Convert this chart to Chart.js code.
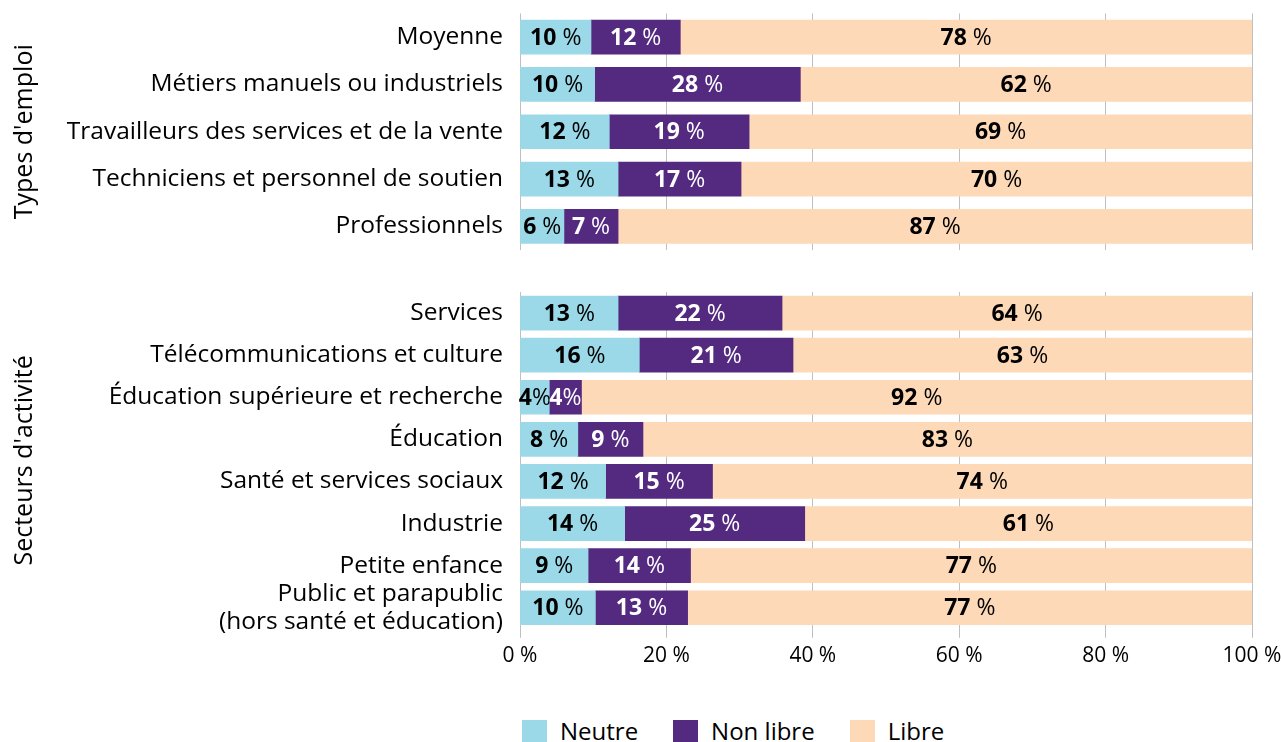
<!DOCTYPE html>
<html>
<head>
<meta charset="utf-8">
<script src="https://cdn.jsdelivr.net/npm/chart.js@4.4.1/dist/chart.umd.min.js"></script>
<style>
body { margin:0; background:#fff; width:1281px; height:742px; overflow:hidden; position:relative; font-family:"Open Sans", sans-serif; }
#topChart { position:absolute; left:0; top:0; }
#bottomChart { position:absolute; left:0; top:280px; }
#legend { position:absolute; left:522px; top:714px; display:flex; align-items:center; font-size:24px; color:#000; }
#legend .item { display:flex; align-items:center; margin-right:35px; }
#legend .box { width:25px; height:22px; margin-right:13px; }
</style>
</head>
<body>
<canvas id="topChart" width="1281" height="254"></canvas>
<canvas id="bottomChart" width="1281" height="406"></canvas>
<div id="legend"></div>

<script>
// series
var seriesNames = ['Neutre', 'Non libre', 'Libre'];
var seriesColors = ['#9BD9E8', '#542A80', '#FDD9B8'];
var labelColors = ['#000', '#fff', '#000'];

// types d'emploi
var emploiLabels = ['Moyenne', 'Métiers manuels ou industriels', 'Travailleurs des services et de la vente', 'Techniciens et personnel de soutien', 'Professionnels'];
var emploiNeutre = [9.7, 10.2, 12.2, 13.4, 6.0];
var emploiNonLibre = [12.2, 28.1, 19.1, 16.8, 7.4];
var emploiLibre = [78.1, 61.7, 68.7, 69.8, 86.6];

// secteurs d'activite
var secteurLabels = ['Services', 'Télécommunications et culture', 'Éducation supérieure et recherche', 'Éducation', 'Santé et services sociaux', 'Industrie', 'Petite enfance', ['Public et parapublic', '(hors santé et éducation)']];
var secteurNeutre = [13.4, 16.3, 4.0, 7.9, 11.7, 14.3, 9.3, 10.3];
var secteurNonLibre = [22.4, 21.0, 4.4, 8.9, 14.6, 24.6, 14.0, 12.6];
var secteurLibre = [64.2, 62.7, 91.6, 83.2, 73.7, 61.1, 76.7, 77.1];

var xTicks = [0, 20, 40, 60, 80, 100];

var FONT = '"Open Sans"';
var LABEL_SIZE = 23;

var barLabels = {
  id: 'barLabels',
  afterDatasetsDraw: function(chart) {
    var ctx = chart.ctx;
    ctx.save();
    ctx.textBaseline = 'middle';
    ctx.textAlign = 'left';
    chart.data.datasets.forEach(function(ds, i) {
      chart.getDatasetMeta(i).data.forEach(function(bar, j) {
        var val = ds.data[j];
        var num = String(Math.round(val));
        var pct = val < 5 ? '%' : ' %';
        ctx.font = 'bold ' + LABEL_SIZE + 'px ' + FONT;
        var w1 = ctx.measureText(num).width;
        ctx.font = LABEL_SIZE + 'px ' + FONT;
        var w2 = ctx.measureText(pct).width;
        var cx = (bar.x + bar.base) / 2;
        var x0 = cx - (w1 + w2) / 2;
        ctx.fillStyle = labelColors[i];
        ctx.font = 'bold ' + LABEL_SIZE + 'px ' + FONT;
        ctx.fillText(num, x0, bar.y + 1);
        ctx.font = LABEL_SIZE + 'px ' + FONT;
        ctx.fillText(pct, x0 + w1, bar.y + 1);
      });
    });
    ctx.restore();
  }
};

function makeDatasets(a, b, c) {
  return [a, b, c].map(function(d, i) {
    return { label: seriesNames[i], data: d, backgroundColor: seriesColors[i], barThickness: 34, borderWidth: 0 };
  });
}

function createChart(canvasId, labels, datasets, title, showX, padTop, padBottom) {
  return new Chart(document.getElementById(canvasId), {
    type: 'bar',
    data: { labels: labels, datasets: datasets },
    plugins: [barLabels],
    options: {
      indexAxis: 'y',
      responsive: false,
      animation: false,
      layout: { padding: { top: padTop, bottom: padBottom, left: 0, right: 29 } },
      plugins: { legend: { display: false }, tooltip: { enabled: false } },
      scales: {
        x: {
          stacked: true, min: 0, max: 100,
          afterBuildTicks: function(s) { s.ticks = xTicks.map(function(v) { return { value: v }; }); },
          afterFit: function(s) { s.paddingLeft = 0; s.paddingRight = 0; },
          grid: { color: '#BFBFBF', lineWidth: 1, drawTicks: showX, tickLength: 9 },
          border: { display: false },
          ticks: { display: showX, color: '#000', font: { family: FONT, size: 21 }, padding: 6,
                   callback: function(v) { return v + ' %'; } }
        },
        y: {
          stacked: true,
          afterFit: function(s) { s.width = 520; s.paddingTop = 0; s.paddingBottom = 0; },
          grid: { display: false, drawTicks: true, tickLength: 17 },
          border: { display: false },
          ticks: { autoSkip: false, color: '#000', font: { family: FONT, size: 24.5, lineHeight: 1.15 }, padding: 0 },
          title: { display: true, text: title, color: '#000', font: { family: FONT, size: 25 }, padding: { top: 10 } }
        }
      }
    }
  });
}

createChart('topChart', emploiLabels, makeDatasets(emploiNeutre, emploiNonLibre, emploiLibre), "Types d'emploi", false, 13.5, 4);
createChart('bottomChart', secteurLabels, makeDatasets(secteurNeutre, secteurNonLibre, secteurLibre), "Secteurs d'activité", true, 12, 11);

var legend = document.getElementById('legend');
seriesNames.forEach(function(name, i) {
  var item = document.createElement('div');
  item.className = 'item';
  item.innerHTML = '<span class="box" style="background:' + seriesColors[i] + '"></span><span>' + name + '</span>';
  legend.appendChild(item);
});
</script>
</body>
</html>
